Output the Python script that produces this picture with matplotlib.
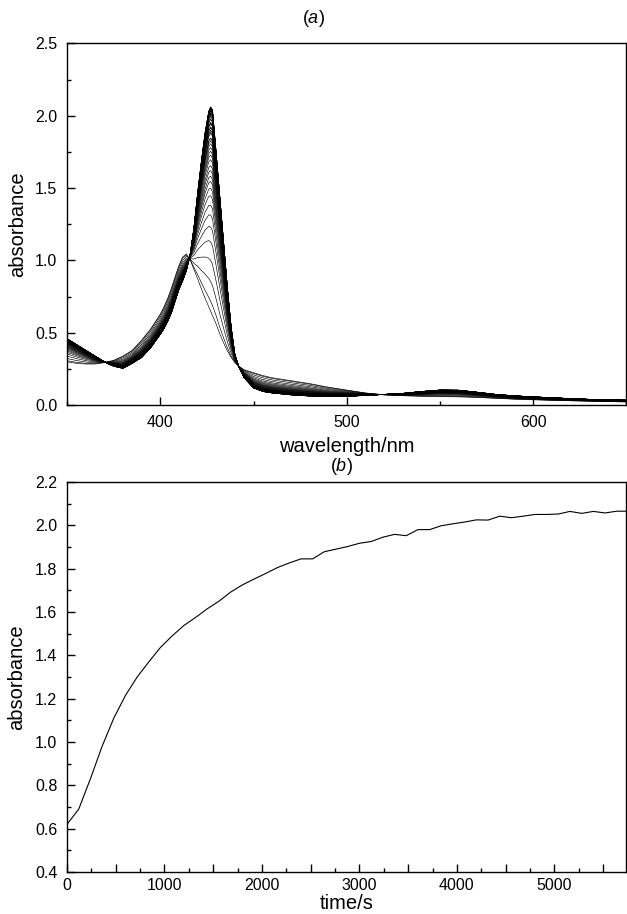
import numpy as np
import matplotlib
matplotlib.use("Agg")
import matplotlib.pyplot as plt
from matplotlib.ticker import MultipleLocator, FuncFormatter, FormatStrFormatter

plt.rcParams['font.family'] = ['Liberation Sans', 'DejaVu Sans']
plt.rcParams['mathtext.fontset'] = 'custom'
plt.rcParams['mathtext.it'] = 'Liberation Sans:italic'
plt.rcParams['mathtext.rm'] = 'Liberation Sans'

# ---- panel (a): wavelength grid (nm) and the first / last recorded spectra ----
wavelength = [350, 355, 360, 365, 370, 375, 380, 385, 390, 395, 400, 402, 404, 406, 408,
              410, 412, 414, 416, 418, 420, 422, 424, 426, 427, 428, 430, 432, 434, 436,
              438, 440, 442, 445, 450, 455, 460, 470, 480, 490, 500, 510, 520, 530, 540,
              550, 560, 570, 580, 590, 600, 610, 620, 630, 640, 650]

spectrum_initial = [0.30, 0.29, 0.285, 0.285, 0.295, 0.31, 0.34, 0.38, 0.45, 0.53, 0.63, 0.68,
                    0.74, 0.81, 0.89, 0.965, 1.025, 1.045, 1.005, 0.94, 0.875, 0.805, 0.74, 0.68,
                    0.65, 0.62, 0.56, 0.49, 0.43, 0.375, 0.33, 0.295, 0.27, 0.245, 0.225, 0.205,
                    0.19, 0.17, 0.15, 0.125, 0.105, 0.085, 0.072, 0.066, 0.062, 0.06, 0.058,
                    0.054, 0.048, 0.042, 0.038, 0.034, 0.031, 0.028, 0.025, 0.023]

spectrum_final = [0.46, 0.42, 0.38, 0.34, 0.30, 0.27, 0.255, 0.29, 0.33, 0.40, 0.49, 0.53,
                  0.58, 0.64, 0.72, 0.80, 0.86, 0.93, 1.04, 1.22, 1.46, 1.68, 1.88, 2.03,
                  2.06, 2.04, 1.74, 1.43, 1.12, 0.81, 0.54, 0.35, 0.27, 0.19, 0.12, 0.095,
                  0.085, 0.072, 0.064, 0.06, 0.062, 0.068, 0.075, 0.082, 0.095, 0.105, 0.104,
                  0.09, 0.075, 0.065, 0.058, 0.052, 0.046, 0.041, 0.037, 0.035]

# ---- panel (b): absorbance at the Soret maximum vs time ----
time_s = [0, 120, 240, 360, 480, 600, 720, 840, 960, 1080, 1200, 1320, 1440, 1560, 1680,
          1800, 1920, 2040, 2160, 2280, 2400, 2520, 2640, 2760, 2880, 3000, 3120, 3240,
          3360, 3480, 3600, 3720, 3840, 3960, 4080, 4200, 4320, 4440, 4560, 4680, 4800,
          4920, 5040, 5160, 5280, 5400, 5520, 5640, 5740]

absorbance_t = [0.62, 0.69, 0.83, 0.98, 1.11, 1.215, 1.30, 1.37, 1.437, 1.49, 1.538, 1.575,
                1.615, 1.65, 1.692, 1.725, 1.752, 1.778, 1.805, 1.826, 1.845, 1.845, 1.878,
                1.89, 1.902, 1.917, 1.925, 1.945, 1.958, 1.952, 1.98, 1.98, 1.998, 2.007,
                2.015, 2.025, 2.024, 2.042, 2.035, 2.042, 2.05, 2.05, 2.052, 2.064, 2.055,
                2.064, 2.057, 2.065, 2.065]

fig = plt.figure(figsize=(6.27, 9.14), dpi=100)
ax1 = fig.add_axes([0.1069, 0.5566, 0.8923, 0.396])
ax2 = fig.add_axes([0.1069, 0.046, 0.8923, 0.4267])

# spectra series: each recorded spectrum is the mixture of first and last spectra,
# weighted by the progress read from panel (b)
wl = np.array(wavelength)
a_ini = np.array(spectrum_initial)
a_fin = np.array(spectrum_final)
kin = np.array(absorbance_t)
progress = (kin - kin[0]) / (kin.max() - kin[0])
for p in progress:
    ax1.plot(wl, a_ini + p * (a_fin - a_ini), color='black', lw=0.45)

ax2.plot(time_s, absorbance_t, color='black', lw=0.8)

for ax in (ax1, ax2):
    for s in ax.spines.values():
        s.set_linewidth(1.0)
    ax.tick_params(which='both', direction='in', top=False, right=False,
                   labelsize=11.5, pad=7, width=1.0)
    ax.tick_params(which='major', length=5.5)
    ax.tick_params(which='minor', length=3)

ax1.set_xlim(350, 650)
ax1.set_ylim(0, 2.5)
ax1.xaxis.set_major_locator(MultipleLocator(100))
ax1.xaxis.set_minor_locator(MultipleLocator(50))
ax1.yaxis.set_major_locator(MultipleLocator(0.5))
ax1.yaxis.set_minor_locator(MultipleLocator(0.25))
ax1.yaxis.set_major_formatter(FormatStrFormatter('%.1f'))
ax1.set_xticks([400, 500, 600])
ax1.set_xlabel('wavelength/nm', fontsize=14.5, labelpad=5)
ax1.set_ylabel('absorbance', fontsize=14.5, labelpad=6)
ax1.annotate(r'($\it{a}$)', xy=(0.44, 1.0), xycoords='axes fraction', xytext=(0, 18),
             textcoords='offset points', ha='center', va='center', fontsize=13)

ax2.set_xlim(0, 5740)
ax2.set_ylim(0.4, 2.2)
ax2.xaxis.set_major_locator(MultipleLocator(500))
ax2.xaxis.set_minor_locator(MultipleLocator(250))
ax2.xaxis.set_major_formatter(FuncFormatter(lambda v, pos: f'{int(round(v))}' if round(v) % 1000 == 0 else ''))
ax2.yaxis.set_major_locator(MultipleLocator(0.2))
ax2.yaxis.set_minor_locator(MultipleLocator(0.1))
ax2.yaxis.set_major_formatter(FormatStrFormatter('%.1f'))
ax2.tick_params(axis='x', which='both', pad=4)
ax2.set_xlabel('time/s', fontsize=14.5, labelpad=1)
ax2.set_ylabel('absorbance', fontsize=14.5, labelpad=6)
ax2.annotate(r'($\it{b}$)', xy=(0.49, 1.0), xycoords='axes fraction', xytext=(0, 11),
             textcoords='offset points', ha='center', va='center', fontsize=13)

fig.savefig('out.png', dpi=100)
